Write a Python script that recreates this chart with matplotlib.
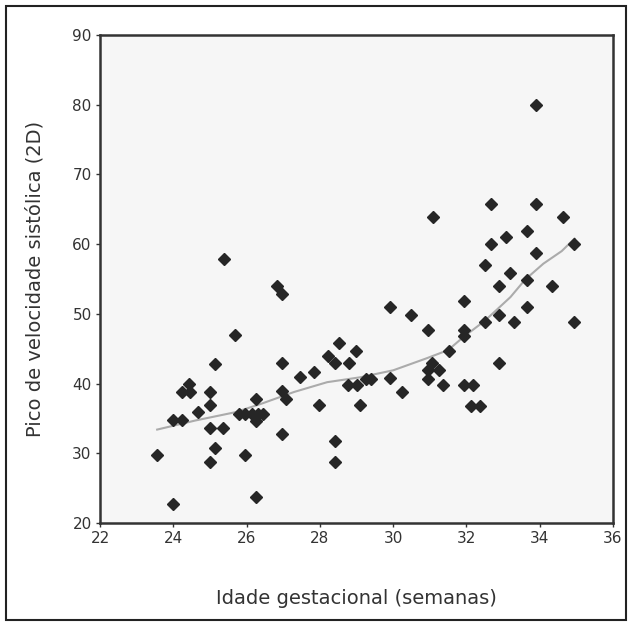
import numpy as np
import matplotlib
matplotlib.use("Agg")
from matplotlib import pyplot as plt
from matplotlib.patches import Rectangle

# idade gestacional (semanas) e pico de velocidade sistolica (2D)
idade = [
    23.56, 23.98, 24.0, 24.25, 24.23, 24.46, 24.44, 24.68, 25.0, 25.0,
    25.0, 25.35, 25.14, 25.14, 25.0, 25.96, 25.39, 25.68, 26.26, 26.26,
    25.78, 25.96, 26.14, 26.32, 26.46, 26.27, 26.82, 26.96, 26.96, 26.96,
    27.08, 26.96, 27.46, 27.84, 27.98, 28.21, 28.41, 28.53, 28.79, 28.99,
    28.41, 28.41, 28.78, 29.0, 29.25, 29.4, 29.1, 29.91, 30.23, 29.91,
    30.5, 30.96, 30.96, 30.96, 31.05, 31.26, 31.37, 31.08, 31.53, 31.94,
    31.94, 31.93, 31.94, 32.19, 32.13, 32.37, 32.51, 32.9, 32.9, 32.9,
    32.51, 32.66, 32.66, 33.08, 33.19, 33.29, 33.64, 33.64, 33.64, 33.9,
    33.9, 33.9, 34.34, 34.64, 34.94, 34.94,
]
pico = [
    29.7, 22.7, 34.8, 34.8, 38.8, 38.8, 40.0, 35.9, 38.8, 36.9,
    33.6, 33.6, 42.8, 30.7, 28.8, 29.7, 57.9, 46.9, 37.8, 34.7,
    35.7, 35.7, 35.7, 35.7, 35.7, 23.7, 54.0, 52.8, 42.9, 38.9,
    37.8, 32.8, 40.9, 41.7, 36.9, 43.9, 42.9, 45.8, 42.9, 44.7,
    31.7, 28.8, 39.8, 39.8, 40.7, 40.7, 36.9, 40.8, 38.8, 51.0,
    49.9, 47.7, 41.9, 40.7, 42.9, 41.9, 39.8, 63.9, 44.7, 51.9,
    47.7, 46.8, 39.8, 39.8, 36.8, 36.8, 48.8, 49.9, 42.9, 54.0,
    57.0, 65.8, 60.0, 61.0, 55.8, 48.9, 61.9, 54.9, 51.0, 79.9,
    65.8, 58.8, 54.0, 63.9, 60.0, 48.9,
]

# curva de ajuste (loess)
curva_x = [23.56, 24.6, 25.7, 26.4, 27.3, 28.2, 29.1, 30.0, 30.9, 31.5,
           31.9, 32.5, 33.2, 33.6, 34.1, 34.6, 34.95]
curva_y = [33.4, 34.7, 35.9, 37.1, 38.8, 40.2, 40.9, 41.9, 43.6, 44.8,
           46.6, 49.0, 52.4, 54.9, 57.2, 59.0, 60.8]

fig = plt.figure(figsize=(6.32, 6.24), dpi=100)
ax = fig.add_axes([100 / 632, 1 - 523 / 624, 513 / 632, 488 / 624])
ax.set_facecolor("#f6f6f6")

ax.plot(curva_x, curva_y, color="#ababab", linewidth=1.5, zorder=2)
ax.plot(idade, pico, linestyle="none", marker="D", markersize=5.8,
        color="#262626", zorder=3)

ax.set_xlim(22, 36)
ax.set_ylim(20, 90)
ax.set_xticks(range(22, 37, 2))
ax.set_yticks(range(20, 91, 10))
ax.tick_params(direction="out", length=3, width=1, colors="#333333",
               labelsize=11, pad=3)
for s in ax.spines.values():
    s.set_color("#333333")
    s.set_linewidth(1.8)

ax.set_xlabel("Idade gestacional (semanas)", fontsize=14, color="#333333",
              labelpad=31)
ax.set_ylabel("Pico de velocidade sistólica (2D)", fontsize=14,
              color="#333333", labelpad=20)

# moldura externa
fig.patches.append(Rectangle((6 / 632, 4 / 624), 620 / 632, 614 / 624,
                             transform=fig.transFigure, fill=False,
                             edgecolor="#222222", linewidth=1.5))

fig.savefig("out.png", dpi=100)
